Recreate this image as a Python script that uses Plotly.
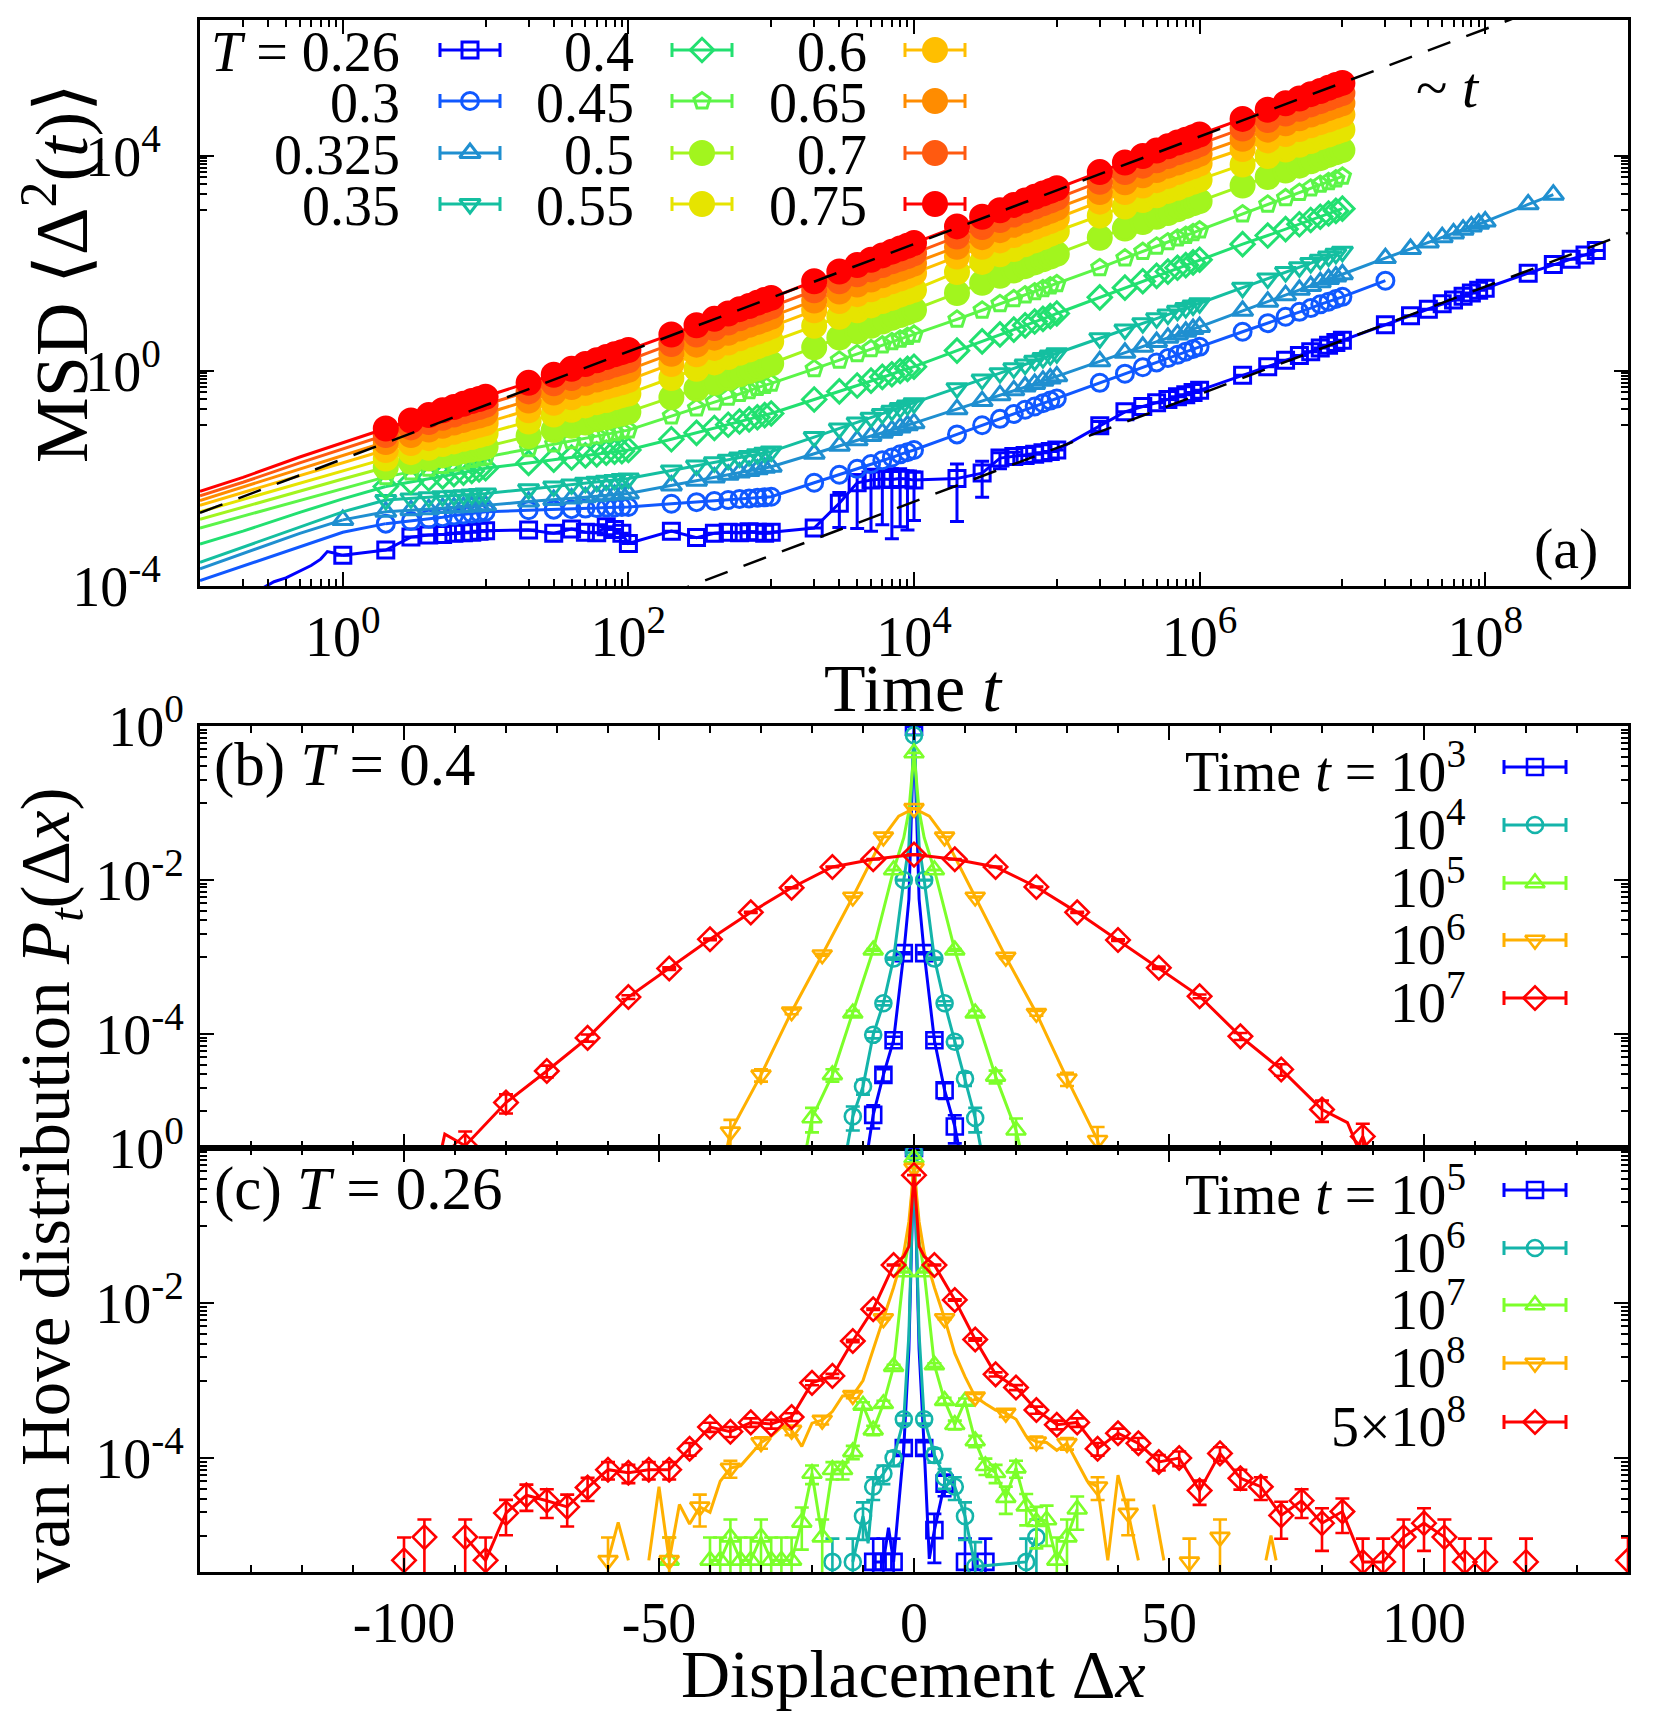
import plotly.graph_objects as go

W, H = 1661, 1711
FONT = "Liberation Serif"
OFF = 8  # the page body margin shifts the figure by this many pixels

# plot frames in page pixels (left, right) and (top, bottom) for each panel
X0, X1 = 200, 1628
A_TOP, A_BOT = 20, 586
B_TOP, B_BOT = 726, 1148
C_TOP, C_BOT = 1148, 1572

# ---------------- panel (a): mean squared displacement ----------------
# marker times shared by all temperatures
t_marks = [2, 3, 4, 5, 6, 7, 8, 9, 10,
           20, 30, 40, 50, 60, 70, 80, 90, 100,
           200, 300, 400, 500, 600, 700, 800, 900, 1e3,
           2e3, 3e3, 4e3, 5e3, 6e3, 7e3, 8e3, 9e3, 1e4,
           2e4, 3e4, 4e4, 5e4, 6e4, 7e4, 8e4, 9e4, 1e5,
           2e5, 3e5, 4e5, 5e5, 6e5, 7e5, 8e5, 9e5, 1e6,
           2e6, 3e6, 4e6, 5e6, 6e6, 7e6, 8e6, 9e6, 1e7]
t_extra_026 = [2e7, 3e7, 4e7, 5e7, 6e7, 7e7, 8e7, 9e7, 1e8, 2e8, 3e8, 4e8, 5e8, 6e8]
t_extra_0325 = [2e7, 3e7, 4e7, 5e7, 6e7, 7e7, 8e7, 9e7, 1e8, 2e8, 3e8]
t_extra_030 = [2e7]

# short-time curves (line only)
t_early = [0.1, 0.2, 0.5, 1, 2]
t_early_026 = [0.27, 0.33, 0.4, 0.5, 0.6, 0.7, 0.78, 0.85, 1.0]

# log10 MSD
early_026 = [-4.05, -3.92, -3.85, -3.72, -3.62, -3.50, -3.36, -3.38, -3.43]
early_030 = [-3.90, -3.63, -3.26, -3.00, -2.84]
early_0325 = [-3.68, -3.40, -3.02, -2.77]
early_035 = [-3.56, -3.28, -2.90, -2.62, -2.40]
early_040 = [-3.22, -2.98, -2.63, -2.38, -2.15]
early_045 = [-2.92, -2.70, -2.40, -2.18, -1.97]
early_050 = [-2.76, -2.53, -2.23, -2.01, -1.79]
early_055 = [-2.62, -2.39, -2.08, -1.86, -1.63]
early_060 = [-2.50, -2.26, -1.94, -1.71, -1.47]
early_065 = [-2.41, -2.16, -1.82, -1.57, -1.32]
early_070 = [-2.32, -2.07, -1.71, -1.45, -1.19]
early_075 = [-2.24, -1.98, -1.60, -1.33, -1.07]

msd_026 = [-3.43,
           -3.33, -3.09, -3.05, -3.04, -3.02, -3.01, -3.00, -2.98, -2.97,
           -2.96, -3.02, -2.94, -3.00, -3.01, -2.90, -2.95, -3.02, -3.21,
           -2.98, -3.10, -3.02, -3.00, -3.01, -2.99, -3.00, -3.02, -3.00,
           -2.92, -2.46, -2.08, -2.03, -2.01, -2.02, -2.00, -2.01, -2.03,
           -2.00, -1.90, -1.62, -1.59, -1.57, -1.55, -1.52, -1.50, -1.47,
           -1.02, -0.76, -0.66, -0.59, -0.53, -0.48, -0.44, -0.40, -0.36,
           -0.08, 0.08, 0.20, 0.29, 0.36, 0.43, 0.48, 0.53, 0.57,
           0.86, 1.03, 1.15, 1.25, 1.32, 1.39, 1.45, 1.50, 1.54,
           1.82, 1.98, 2.08, 2.16, 2.24]
msd_030 = [-2.84, -2.79, -2.75, -2.72, -2.69, -2.67, -2.65, -2.64, -2.62,
           -2.59, -2.58, -2.57, -2.56, -2.55, -2.54, -2.54, -2.53, -2.53,
           -2.47, -2.44, -2.42, -2.40, -2.38, -2.37, -2.36, -2.35, -2.34,
           -2.08, -1.93, -1.82, -1.73, -1.66, -1.61, -1.55, -1.51, -1.47,
           -1.18, -1.01, -0.89, -0.80, -0.72, -0.66, -0.60, -0.55, -0.51,
           -0.22, -0.05, 0.07, 0.16, 0.24, 0.30, 0.36, 0.41, 0.45,
           0.73, 0.89, 1.01, 1.10, 1.17, 1.24, 1.29, 1.34, 1.38,
           1.68]
msd_0325 = [-2.77,
            -2.62, -2.59, -2.57, -2.55, -2.54, -2.53, -2.52, -2.51, -2.50,
            -2.43, -2.40, -2.37, -2.35, -2.33, -2.31, -2.30, -2.29, -2.28,
            -2.13, -2.04, -1.98, -1.93, -1.89, -1.86, -1.83, -1.80, -1.78,
            -1.54, -1.39, -1.29, -1.21, -1.15, -1.10, -1.05, -1.01, -0.97,
            -0.71, -0.56, -0.45, -0.36, -0.29, -0.24, -0.18, -0.14, -0.10,
            0.18, 0.34, 0.45, 0.54, 0.62, 0.68, 0.73, 0.78, 0.82,
            1.12, 1.29, 1.41, 1.51, 1.58, 1.65, 1.71, 1.76, 1.80,
            2.10, 2.27, 2.39, 2.49, 2.56, 2.63, 2.69, 2.74, 2.78,
            3.10, 3.28]
msd_035 = [-2.40, -2.37, -2.35, -2.33, -2.32, -2.31, -2.30, -2.29, -2.28,
           -2.20, -2.15, -2.11, -2.08, -2.06, -2.04, -2.03, -2.01, -2.00,
           -1.85, -1.76, -1.70, -1.65, -1.61, -1.58, -1.55, -1.52, -1.50,
           -1.23, -1.07, -0.96, -0.87, -0.80, -0.74, -0.69, -0.64, -0.60,
           -0.32, -0.16, -0.04, 0.05, 0.12, 0.19, 0.24, 0.29, 0.33,
           0.61, 0.77, 0.89, 0.98, 1.05, 1.12, 1.17, 1.22, 1.26,
           1.55, 1.72, 1.84, 1.93, 2.01, 2.07, 2.13, 2.18, 2.22]
msd_040 = [-2.15, -2.06, -2.00, -1.96, -1.92, -1.89, -1.86, -1.83, -1.81,
           -1.71, -1.65, -1.61, -1.57, -1.55, -1.52, -1.50, -1.49, -1.47,
           -1.27, -1.15, -1.06, -1.00, -0.94, -0.90, -0.86, -0.82, -0.79,
           -0.53, -0.38, -0.27, -0.18, -0.11, -0.06, 0.00, 0.04, 0.08,
           0.38, 0.55, 0.68, 0.77, 0.85, 0.92, 0.97, 1.02, 1.07,
           1.37, 1.55, 1.67, 1.77, 1.85, 1.92, 1.97, 2.02, 2.07,
           2.36, 2.52, 2.64, 2.73, 2.81, 2.87, 2.93, 2.98, 3.02]
msd_045 = [-1.97, -1.88, -1.81, -1.76, -1.72, -1.68, -1.65, -1.62, -1.60,
           -1.45, -1.36, -1.30, -1.25, -1.21, -1.18, -1.15, -1.12, -1.10,
           -0.84, -0.69, -0.58, -0.49, -0.42, -0.37, -0.31, -0.27, -0.23,
           0.04, 0.20, 0.32, 0.41, 0.48, 0.54, 0.59, 0.64, 0.68,
           0.96, 1.13, 1.25, 1.34, 1.41, 1.47, 1.53, 1.58, 1.62,
           1.92, 2.10, 2.22, 2.32, 2.40, 2.47, 2.52, 2.57, 2.62,
           2.92, 3.10, 3.22, 3.32, 3.40, 3.47, 3.52, 3.57, 3.62]
msd_050 = [-1.79, -1.69, -1.63, -1.57, -1.53, -1.49, -1.46, -1.44, -1.41,
           -1.21, -1.10, -1.02, -0.96, -0.90, -0.86, -0.82, -0.79, -0.76,
           -0.49, -0.33, -0.22, -0.13, -0.06, 0.00, 0.05, 0.10, 0.14,
           0.44, 0.62, 0.74, 0.84, 0.92, 0.99, 1.04, 1.09, 1.14,
           1.45, 1.64, 1.77, 1.87, 1.95, 2.02, 2.08, 2.13, 2.18,
           2.48, 2.65, 2.77, 2.87, 2.94, 3.01, 3.07, 3.12, 3.16,
           3.45, 3.61, 3.73, 3.82, 3.90, 3.96, 4.02, 4.07, 4.11]
msd_055 = [-1.63, -1.51, -1.43, -1.36, -1.31, -1.26, -1.23, -1.19, -1.16,
           -0.94, -0.81, -0.72, -0.64, -0.58, -0.54, -0.49, -0.45, -0.42,
           -0.13, 0.04, 0.16, 0.26, 0.34, 0.40, 0.46, 0.51, 0.55,
           0.84, 1.01, 1.13, 1.22, 1.30, 1.36, 1.42, 1.47, 1.51,
           1.84, 2.03, 2.17, 2.27, 2.36, 2.43, 2.49, 2.55, 2.60,
           2.89, 3.06, 3.18, 3.27, 3.35, 3.41, 3.47, 3.52, 3.56,
           3.84, 4.00, 4.12, 4.21, 4.28, 4.35, 4.40, 4.45, 4.49]
msd_060 = [-1.47, -1.34, -1.25, -1.19, -1.13, -1.08, -1.04, -1.00, -0.97,
           -0.73, -0.59, -0.49, -0.41, -0.35, -0.29, -0.25, -0.21, -0.17,
           0.13, 0.31, 0.43, 0.53, 0.61, 0.68, 0.73, 0.78, 0.83,
           1.13, 1.30, 1.43, 1.52, 1.60, 1.67, 1.72, 1.77, 1.82,
           2.13, 2.31, 2.43, 2.53, 2.61, 2.68, 2.74, 2.79, 2.84,
           3.15, 3.33, 3.45, 3.55, 3.63, 3.70, 3.76, 3.81, 3.86,
           4.13, 4.29, 4.41, 4.50, 4.57, 4.63, 4.68, 4.73, 4.77]
msd_065 = [-1.32, -1.19, -1.09, -1.02, -0.96, -0.91, -0.86, -0.83, -0.79,
           -0.55, -0.40, -0.30, -0.22, -0.16, -0.11, -0.06, -0.02, 0.02,
           0.32, 0.49, 0.62, 0.71, 0.79, 0.86, 0.91, 0.96, 1.01,
           1.31, 1.48, 1.61, 1.70, 1.78, 1.85, 1.90, 1.95, 2.00,
           2.31, 2.49, 2.62, 2.72, 2.80, 2.87, 2.93, 2.98, 3.03,
           3.33, 3.51, 3.64, 3.74, 3.82, 3.88, 3.94, 3.99, 4.04,
           4.32, 4.49, 4.61, 4.70, 4.77, 4.83, 4.89, 4.94, 4.98]
msd_070 = [-1.19, -1.05, -0.95, -0.87, -0.81, -0.75, -0.71, -0.67, -0.63,
           -0.38, -0.23, -0.13, -0.05, 0.02, 0.07, 0.12, 0.16, 0.20,
           0.50, 0.68, 0.80, 0.90, 0.98, 1.05, 1.10, 1.15, 1.20,
           1.50, 1.67, 1.80, 1.89, 1.97, 2.04, 2.09, 2.14, 2.19,
           2.50, 2.68, 2.81, 2.91, 2.99, 3.06, 3.12, 3.17, 3.22,
           3.52, 3.70, 3.82, 3.92, 4.00, 4.07, 4.12, 4.17, 4.22,
           4.51, 4.67, 4.79, 4.88, 4.96, 5.02, 5.08, 5.13, 5.17]
msd_075 = [-1.07, -0.92, -0.82, -0.73, -0.67, -0.61, -0.56, -0.52, -0.48,
           -0.22, -0.07, 0.04, 0.13, 0.20, 0.26, 0.31, 0.35, 0.39,
           0.68, 0.85, 0.97, 1.07, 1.15, 1.21, 1.27, 1.32, 1.36,
           1.67, 1.85, 1.97, 2.07, 2.15, 2.22, 2.28, 2.33, 2.38,
           2.69, 2.87, 2.99, 3.09, 3.17, 3.24, 3.30, 3.35, 3.40,
           3.70, 3.88, 4.00, 4.10, 4.18, 4.25, 4.30, 4.35, 4.40,
           4.69, 4.86, 4.98, 5.07, 5.15, 5.21, 5.27, 5.32, 5.36]

# visible error bars of T = 0.26 (up, down) in decades
err_026 = {3e3: (0.2, 0.45), 4e3: (0.15, 0.85), 5e3: (0.2, 0.95), 6e3: (0.15, 0.85),
           7e3: (0.2, 1.1), 8e3: (0.18, 0.9), 9e3: (0.15, 0.95), 1e4: (0.15, 0.75),
           2e4: (0.27, 0.8), 3e4: (0.22, 0.45), 4e4: (0.1, 0.2), 5e4: (0.08, 0.15),
           2e5: (0.08, 0.1)}

# ~t guide lines (end points)
guide1_t, guide1_msd = [0.1, 1e9], [2.3e-3, 2.3e7]
guide2_t, guide2_msd = [1e2, 1e9], [3.7e-5, 3.7e2]

# ---------------- panels (b), (c): van Hove distributions ----------------
# log10 P_t(dx); None = empty bin
b_x_1e3 = [-10, -8, -6, -4, -2, -1, 0, 1, 2, 4, 6, 8, 10]
b_p_1e3 = [-5.9, -5.05, -4.53, -4.08, -2.95, -2.25, -0.01, -2.25, -2.95, -4.08, -4.73, -5.2, -5.9]
b_x_1e4 = [-14, -12, -10, -8, -6, -4, -2, -1, 0, 1, 2, 4, 6, 8, 10, 12, 14]
b_p_1e4 = [-5.8, -5.07, -4.68, -4.01, -3.6, -3.02, -2.0, -1.55, -0.12, -1.55, -2.0, -3.02, -3.6,
           -4.1, -4.58, -5.09, -5.8]
b_x_1e5 = [-22, -20, -16, -12, -8, -4, -2, -1, 0, 1, 2, 4, 8, 12, 16, 20, 22]
b_p_1e5 = [-5.8, -5.09, -4.53, -3.73, -2.91, -1.87, -1.45, -1.1, -0.35, -1.1, -1.45, -1.87, -2.91,
           -3.73, -4.55, -5.25, -5.8]
b_x_1e6 = [-38, -36, -30, -24, -18, -12, -6, -3, 0, 3, 6, 12, 18, 24, 30, 36, 38]
b_p_1e6 = [-5.9, -5.27, -4.53, -3.71, -2.97, -2.22, -1.44, -1.17, -1.07, -1.17, -1.44, -2.22, -3.0,
           -3.73, -4.58, -5.38, -5.9]
b_x_1e7 = [-94, -92, -88, -80, -72, -64, -56, -48, -40, -32, -24, -16, -8, 0, 8, 16, 24, 32, 40,
           48, 56, 64, 72, 80, 85, 87, 88, 90]
b_p_1e7 = [-5.9, -5.3, -5.45, -4.89, -4.48, -4.05, -3.52, -3.15, -2.77, -2.42, -2.1, -1.83, -1.73,
           -1.67, -1.73, -1.83, -2.09, -2.42, -2.78, -3.14, -3.51, -4.03, -4.46, -4.98, -5.15,
           -5.47, -5.33, -5.7]

c_x_1e5 = [-8, -6, -5, -4, -2, -1, 0, 1, 2, 3, 4, 6, 8, 10, 12, 14]
c_p_1e5 = [-5.34, -5.34, -4.9, -5.34, -3.87, -2.6, 0.0, -2.6, -3.87, -5.3, -4.93, -4.33, None,
           -5.34, None, -5.34]
c_x_1e6 = [-16, -14, -12, -10, -9, -8, -6, -4, -2, -1, 0, 1, 2, 4, 6, 8, 10, 12, 22, 24]
c_p_1e6 = [-5.34, None, -5.34, -4.75, -5.1, -4.37, -4.2, -4.0, -3.5, -2.4, -0.06, -2.4, -3.5,
           -3.96, -4.25, -4.37, -4.75, -5.4, -5.34, -5.02]
c_x_1e7 = [-48, -46, -40, -38, -36, -34, -32, -30, -28, -26, -24, -22, -20, -18, -16, -14, -12,
           -10, -8, -6, -4, -2, -1, 0, 1, 2, 4, 6, 8, 10, 12, 14, 16, 18, 20, 22, 24, 26, 28, 30, 32]
c_p_1e7 = [-5.32, None, -5.32, -5.32, -5.02, -5.32, -5.32, -5.02, -5.32, -5.32, -5.32, -4.83, -4.2,
           -5.02, -4.15, -4.15, -3.92, -3.32, -3.64, -3.3, -2.82, -1.6, -1.2, -0.13, -1.2, -1.6,
           -2.8, -3.26, -3.57, -3.27, -3.78, -4.1, -4.19, -4.51, -4.13, -4.62, -4.82, -4.8,
           -5.32, -5.02, -4.66]
c_x_1e8 = [-60, -58, -56, -54, -52, -50, -48, -46, -44, -42, -40, -38, -36, -34, -32, -30, -28,
           -26, -24, -22, -20, -18, -16, -14, -12, -10, -8, -6, -4, -2, -1, 0, 1, 2, 4, 6, 8,
           10, 12, 14, 16, 18, 20, 22, 24, 26, 28, 30, 32, 34, 36, 38, 40, 42, 44, 46, 47, 49,
           52, 54, 56, 60, 62, 69, 70, 71]
c_p_1e8 = [-5.32, -4.83, -5.32, None, -5.32, -4.37, -5.32, -4.6, -4.85, -4.63, -4.7, -4.3, -4.13,
           -4.1, -3.95, -3.8, -3.72, -3.6, -3.64, -3.85, -3.55, -3.51, -3.4, -3.2, -3.19, -3.0,
           -2.6, -2.2, -1.8, -1.35, -0.95, -0.26, -0.95, -1.35, -1.8, -2.2, -2.65, -2.95, -3.21,
           -3.3, -3.38, -3.42, -3.5, -3.72, -3.79, -3.8, -3.9, -3.81, -4.05, -4.3, -4.37, -5.32,
           -4.22, -4.71, -5.32, None, -4.6, -5.32, None, -5.34, None, -5.02, None, -5.32, -5.0,
           -5.32]
c_x_5e8 = [-100, -98, -96, -92, -88, -84, -80, -76, -72, -68, -64, -60, -56, -52, -48, -44, -40,
           -36, -32, -28, -24, -20, -16, -12, -8, -4, -2, -1, 0, 1, 2, 4, 8, 12, 16, 20, 24, 28,
           32, 36, 40, 44, 48, 52, 56, 60, 64, 68, 72, 76, 80, 84, 88, 92, 96, 100, 104, 108,
           110, 112, 116, 120, 124, 140]
c_p_5e8 = [-5.32, None, -5.02, None, -5.02, -5.32, -4.71, -4.48, -4.55, -4.63, -4.38, -4.15, -4.19,
           -4.15, -4.15, -3.88, -3.6, -3.66, -3.54, -3.56, -3.47, -3.03, -2.94, -2.49, -2.08,
           -1.51, -1.4, -1.27, -0.35, -1.27, -1.4, -1.51, -1.96, -2.47, -2.92, -3.09, -3.38,
           -3.57, -3.54, -3.88, -3.68, -3.81, -4.05, -4.0, -4.42, -3.94, -4.26, -4.37, -4.74,
           -4.55, -4.84, -4.69, -5.34, -5.34, -5.02, -4.84, -5.02, -5.34, None, -5.34, None,
           -5.34, None, -5.32]

# number of samples behind each histogram (sets Poisson error bars)
n_samples_b = 1e6
n_samples_c = 2.2e5


def unlog(vals):
    return [None if v is None else 10 ** v for v in vals]


def px_x(px):
    return (px - OFF) / W


def px_y(py):
    return 1 - (py - OFF) / H


def note(x, y, text, size, xanchor="center", yanchor="middle", **kw):
    """Text placed in page pixels."""
    return dict(x=px_x(x), y=px_y(y), xref="paper", yref="paper", text=text,
                xanchor=xanchor, yanchor=yanchor, showarrow=False,
                font=dict(size=size, family=FONT, color="black"), **kw)


fig = go.Figure()

# ---- panel (a) traces ----
series_a = [
    ("<i>T</i> = 0.26", "#0000ff", "square-open", 16, t_early_026, early_026, [1] + t_marks + t_extra_026, msd_026),
    ("0.3", "#1058ff", "circle-open", 17, t_early, early_030, t_marks + t_extra_030, msd_030),
    ("0.325", "#1f8fd0", "triangle-up-open", 18, t_early[:4], early_0325, [1] + t_marks + t_extra_0325, msd_0325),
    ("0.35", "#14bfa0", "triangle-down-open", 18, t_early, early_035, t_marks, msd_035),
    ("0.4", "#22e070", "diamond-open", 18, t_early, early_040, t_marks, msd_040),
    ("0.45", "#5cf548", "pentagon-open", 17, t_early, early_045, t_marks, msd_045),
    ("0.5", "#a2f51e", "circle", 23, t_early, early_050, t_marks, msd_050),
    ("0.55", "#e6e400", "circle", 23, t_early, early_055, t_marks, msd_055),
    ("0.6", "#ffbf00", "circle", 23, t_early, early_060, t_marks, msd_060),
    ("0.65", "#ff8c00", "circle", 23, t_early, early_065, t_marks, msd_065),
    ("0.7", "#ff5a10", "circle", 23, t_early, early_070, t_marks, msd_070),
    ("0.75", "#ff0000", "circle", 23, t_early, early_075, t_marks, msd_075),
]

for label, color, sym, size, te, early, tm, msd in series_a:
    fig.add_trace(go.Scatter(x=te, y=unlog(early), mode="lines",
                             line=dict(color=color, width=3), xaxis="x", yaxis="y"))
    err = None
    if label.endswith("0.26"):
        up = [10 ** v * (10 ** err_026[t][0] - 1) if t in err_026 else 0 for t, v in zip(tm, msd)]
        dn = [10 ** v * (1 - 10 ** -err_026[t][1]) if t in err_026 else 0 for t, v in zip(tm, msd)]
        err = dict(type="data", array=up, arrayminus=dn, symmetric=False,
                   color=color, thickness=3, width=7)
    fig.add_trace(go.Scatter(
        x=tm, y=unlog(msd), mode="lines+markers",
        line=dict(color=color, width=3),
        marker=dict(symbol=sym, size=size, color=color, line=dict(color=color, width=3)),
        error_y=err, xaxis="x", yaxis="y"))

# ~t guides
for gt, gm in [(guide1_t, guide1_msd), (guide2_t, guide2_msd)]:
    fig.add_trace(go.Scatter(x=gt, y=gm, mode="lines", xaxis="x", yaxis="y",
                             line=dict(color="black", width=2.5, dash="24px,17px")))

# ---- panels (b) and (c) traces ----
vh_colors = ["#0000ff", "#14b4aa", "#7cff2a", "#ffb000", "#ff0000"]
vh_symbols = ["square-open", "circle-open", "triangle-up-open", "triangle-down-open", "diamond-open"]
vh_sizes = [16, 16, 17, 17, 18]
vh_steps = [2, 2, 4, 6, 8]

series_b = [(b_x_1e3, b_p_1e3), (b_x_1e4, b_p_1e4), (b_x_1e5, b_p_1e5),
            (b_x_1e6, b_p_1e6), (b_x_1e7, b_p_1e7)]
series_c = [(c_x_1e5, c_p_1e5), (c_x_1e6, c_p_1e6), (c_x_1e7, c_p_1e7),
            (c_x_1e8, c_p_1e8), (c_x_5e8, c_p_5e8)]
steps_c = [2, 2, 2, 6, 4]


def add_vanhove(series, steps, n_samples, xa, ya):
    for i, (xs, ps) in enumerate(series):
        color = vh_colors[i]
        fig.add_trace(go.Scatter(x=xs, y=unlog(ps), mode="lines", xaxis=xa, yaxis=ya,
                                 line=dict(color=color, width=3)))
        mx = [x for x, p in zip(xs, ps) if p is not None and x % steps[i] == 0]
        mp = [p for x, p in zip(xs, ps) if p is not None and x % steps[i] == 0]
        py = unlog(mp)
        rel = [(p * n_samples) ** -0.5 for p in py]
        up = [p * r for p, r in zip(py, rel)]
        dn = [p * min(r, 0.99) for p, r in zip(py, rel)]
        fig.add_trace(go.Scatter(
            x=mx, y=py, mode="markers", xaxis=xa, yaxis=ya,
            marker=dict(symbol=vh_symbols[i], size=vh_sizes[i], color=color,
                        line=dict(color=color, width=2.6)),
            error_y=dict(type="data", array=up, arrayminus=dn, symmetric=False,
                         color=color, thickness=2.6, width=7)))


add_vanhove(series_b, vh_steps, n_samples_b, "x2", "y2")
add_vanhove(series_c, steps_c, n_samples_c, "x3", "y3")

# ---- key samples (drawn on a full-page pixel axis) ----
annotations = []
key_a_text_x = [402, 636, 869]
key_a_sym_x = [470, 702, 935]
key_a_rows = [50, 101, 153, 204]
for i, (label, color, sym, size, *_rest) in enumerate(series_a):
    col, row = i // 4, i % 4
    cy = key_a_rows[row]
    fig.add_trace(go.Scatter(
        x=[key_a_sym_x[col]], y=[cy], mode="markers", xaxis="x4", yaxis="y4",
        marker=dict(symbol=sym, size=size, color=color, line=dict(color=color, width=3)),
        error_x=dict(type="constant", value=30, color=color, thickness=3, width=7)))
    annotations.append(note(key_a_text_x[col], cy + 2, label, 56, xanchor="right"))

key_b_rows = [767, 825, 883, 940, 998]
key_c_rows = [1190, 1248, 1305, 1363, 1422]
key_b_text = ["Time <i>t</i> = 10<sup>3</sup>", "10<sup>4</sup>", "10<sup>5</sup>",
              "10<sup>6</sup>", "10<sup>7</sup>"]
key_c_text = ["Time <i>t</i> = 10<sup>5</sup>", "10<sup>6</sup>", "10<sup>7</sup>",
              "10<sup>8</sup>", "5×10<sup>8</sup>"]
for rows, texts in [(key_b_rows, key_b_text), (key_c_rows, key_c_text)]:
    for i, (cy, txt) in enumerate(zip(rows, texts)):
        fig.add_trace(go.Scatter(
            x=[1535], y=[cy], mode="markers", xaxis="x4", yaxis="y4",
            marker=dict(symbol=vh_symbols[i], size=vh_sizes[i], color=vh_colors[i],
                        line=dict(color=vh_colors[i], width=2.6)),
            error_x=dict(type="constant", value=31, color=vh_colors[i], thickness=3, width=7)))
        annotations.append(note(1468, cy, txt, 56, xanchor="right"))

# titles and panel labels
annotations += [
    note(56, 273, "MSD ⟨Δ<sup>2</sup>(<i>t</i>)⟩", 74, textangle=-90),
    note(914, 688, "Time <i>t</i>", 68),
    note(50, 1185, "van Hove distribution <i>P</i><sub><i>t</i></sub>(Δ<i>x</i>)", 69, textangle=-90),
    note(914, 1674, "Displacement Δ<i>x</i>", 68),
    note(1566, 548, "(a)", 58),
    note(1448, 88, "~ <i>t</i>", 58),
    note(212, 765, "(b) <i>T</i> = 0.4", 61, xanchor="left"),
    note(212, 1189, "(c) <i>T</i> = 0.26", 61, xanchor="left"),
]

# ---- axes ----
frame = dict(showline=True, linewidth=3, linecolor="black", mirror="ticks", ticks="inside",
             ticklen=14, tickwidth=2, tickcolor="black", showgrid=False, zeroline=False,
             automargin=False, tickfont=dict(family=FONT, size=56, color="black"))


def minor_log(majors):
    # gnuplot-style minor ticks: 1..9 times the decade below each major tick
    return dict(ticks="inside", ticklen=7, tickwidth=2, tickcolor="black",
                tickvals=[m * 10 ** (k - 1) for k in majors for m in range(1, 10)])


xdom = [px_x(X0), px_x(X1)]
fig.update_layout(
    width=W, height=H, margin=dict(l=0, r=0, t=0, b=0, pad=0, autoexpand=False),
    paper_bgcolor="white", plot_bgcolor="rgba(0,0,0,0)", showlegend=False,
    font=dict(family=FONT, color="black"),
    annotations=annotations,
    xaxis=dict(frame, type="log", range=[-1, 9], domain=xdom, anchor="y",
               tickvals=[1, 1e2, 1e4, 1e6, 1e8],
               ticktext=["10<sup>0</sup>", "10<sup>2</sup>", "10<sup>4</sup>",
                         "10<sup>6</sup>", "10<sup>8</sup>"],
               minor=minor_log([0, 2, 4, 6, 8, 10]), ticklabelstandoff=0),
    yaxis=dict(frame, type="log", range=[-4, 6.53], domain=[px_y(A_BOT), px_y(A_TOP)],
               anchor="x", tickvals=[1e-4, 1, 1e4],
               ticktext=["10<sup>-4</sup>", "10<sup>0</sup>", "10<sup>4</sup>"],
               minor=minor_log([-4, 0, 4, 8]), ticklabelstandoff=25),
    xaxis2=dict(frame, range=[-140, 140], domain=xdom, anchor="y2", showticklabels=False,
                tickvals=[-100, -50, 0, 50, 100],
                minor=dict(ticks="inside", ticklen=7, tickwidth=2, tickcolor="black",
                           dtick=10, tick0=0)),
    yaxis2=dict(frame, type="log", range=[-5.48, 0], domain=[px_y(B_BOT), px_y(B_TOP)],
                anchor="x2", tickvals=[1e-4, 1e-2, 1],
                ticktext=["10<sup>-4</sup>", "10<sup>-2</sup>", "10<sup>0</sup>"],
                minor=minor_log([-4, -2, 0]), ticklabelstandoff=2),
    xaxis3=dict(frame, range=[-140, 140], domain=xdom, anchor="y3",
                tickvals=[-100, -50, 0, 50, 100], ticktext=["-100", "-50", "0", "50", "100"],
                minor=dict(ticks="inside", ticklen=7, tickwidth=2, tickcolor="black",
                           dtick=10, tick0=0), ticklabelstandoff=0),
    yaxis3=dict(frame, type="log", range=[-5.47, 0], domain=[px_y(C_BOT), px_y(C_TOP)],
                anchor="x3", tickvals=[1e-4, 1e-2, 1],
                ticktext=["10<sup>-4</sup>", "10<sup>-2</sup>", "10<sup>0</sup>"],
                minor=minor_log([-4, -2, 0]), ticklabelstandoff=2),
    xaxis4=dict(domain=[0, 1], range=[OFF, W + OFF], visible=False, anchor="y4"),
    yaxis4=dict(domain=[0, 1], range=[H + OFF, OFF], visible=False, anchor="x4"),
)

fig.write_html("out.html")
